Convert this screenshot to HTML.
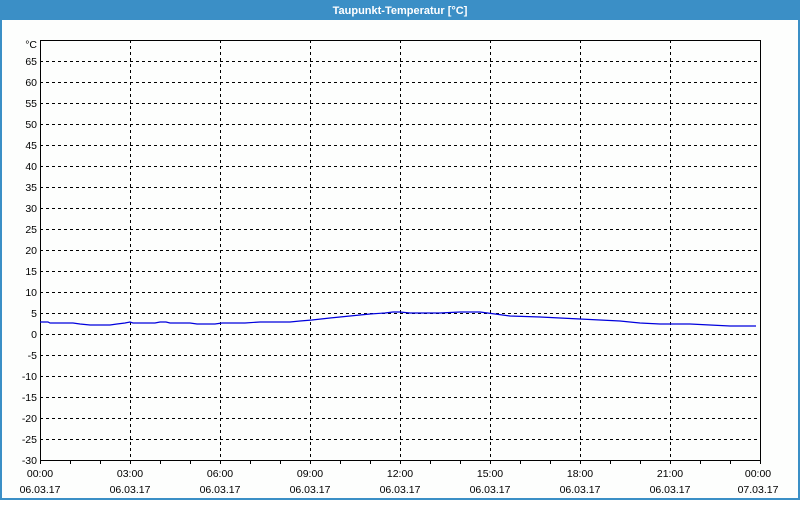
<!DOCTYPE html>
<html><head><meta charset="utf-8"><style>
body{margin:0;width:800px;height:500px;overflow:hidden;background:#fff;font-family:"Liberation Sans",sans-serif}
</style></head><body>
<svg width="800" height="500" xmlns="http://www.w3.org/2000/svg" font-family="Liberation Sans, sans-serif" font-size="10.5">
<rect x="0" y="0" width="800" height="500" fill="#3b8fc6"/>
<rect x="2" y="20" width="796" height="478" fill="#fdfefd"/>
<text x="400" y="14" fill="#fff" font-weight="bold" font-size="11" text-anchor="middle">Taupunkt-Temperatur [°C]</text>
<g stroke="#000" stroke-dasharray="3,3" stroke-width="1">
<line x1="40" x2="760" y1="61.5" y2="61.5"/><line x1="40" x2="760" y1="82.5" y2="82.5"/><line x1="40" x2="760" y1="103.5" y2="103.5"/><line x1="40" x2="760" y1="124.5" y2="124.5"/><line x1="40" x2="760" y1="145.5" y2="145.5"/><line x1="40" x2="760" y1="166.5" y2="166.5"/><line x1="40" x2="760" y1="187.5" y2="187.5"/><line x1="40" x2="760" y1="208.5" y2="208.5"/><line x1="40" x2="760" y1="229.5" y2="229.5"/><line x1="40" x2="760" y1="250.5" y2="250.5"/><line x1="40" x2="760" y1="271.5" y2="271.5"/><line x1="40" x2="760" y1="292.5" y2="292.5"/><line x1="40" x2="760" y1="313.5" y2="313.5"/><line x1="40" x2="760" y1="334.5" y2="334.5"/><line x1="40" x2="760" y1="355.5" y2="355.5"/><line x1="40" x2="760" y1="376.5" y2="376.5"/><line x1="40" x2="760" y1="397.5" y2="397.5"/><line x1="40" x2="760" y1="418.5" y2="418.5"/><line x1="40" x2="760" y1="439.5" y2="439.5"/>
<line y1="40" y2="460" x1="130.5" x2="130.5"/><line y1="40" y2="460" x1="220.5" x2="220.5"/><line y1="40" y2="460" x1="310.5" x2="310.5"/><line y1="40" y2="460" x1="400.5" x2="400.5"/><line y1="40" y2="460" x1="490.5" x2="490.5"/><line y1="40" y2="460" x1="580.5" x2="580.5"/><line y1="40" y2="460" x1="670.5" x2="670.5"/>
</g>
<rect x="40.5" y="40.5" width="720" height="420" fill="none" stroke="#000"/>
<g stroke="#000">
<path d="M40.5 460v4M70.5 460v4M100.5 460v4M130.5 460v4M160.5 460v4M190.5 460v4M220.5 460v4M250.5 460v4M280.5 460v4M310.5 460v4M340.5 460v4M370.5 460v4M400.5 460v4M430.5 460v4M460.5 460v4M490.5 460v4M520.5 460v4M550.5 460v4M580.5 460v4M610.5 460v4M640.5 460v4M670.5 460v4M700.5 460v4M730.5 460v4M760.5 460v4"/>
</g>
<polyline fill="none" stroke="#0000dd" stroke-width="1.2" points="40,322 48,322 50,323 73,323 80,324 90,325 110,325 117,324 125,323 130,322 133,323 155,323 160,322 166,322 170,323 190,323 197,324 215,324 222,323 245,323 260,322 290,322 300,321 312,320 330,318 350,316 370,314 385,313 393,312 400,312 410,313 440,313 460,312 480,312 495,314 510,316 540,317 560,318 580,319 600,320 620,321 640,323 660,324 690,324 710,325 730,326 756,326"/>
<g fill="#000" text-anchor="end">
<text x="37" y="48">°C</text>
<text x="37" y="65">65</text><text x="37" y="86">60</text><text x="37" y="107">55</text><text x="37" y="128">50</text><text x="37" y="149">45</text><text x="37" y="170">40</text><text x="37" y="191">35</text><text x="37" y="212">30</text><text x="37" y="233">25</text><text x="37" y="254">20</text><text x="37" y="275">15</text><text x="37" y="296">10</text><text x="37" y="317">5</text><text x="37" y="338">0</text><text x="37" y="359">-5</text><text x="37" y="380">-10</text><text x="37" y="401">-15</text><text x="37" y="422">-20</text><text x="37" y="443">-25</text><text x="37" y="464">-30</text>
</g>
<g fill="#000" text-anchor="middle">
<text x="40" y="477">00:00</text><text x="130" y="477">03:00</text><text x="220" y="477">06:00</text><text x="310" y="477">09:00</text><text x="400" y="477">12:00</text><text x="490" y="477">15:00</text><text x="580" y="477">18:00</text><text x="670" y="477">21:00</text><text x="758" y="477">00:00</text>
<text x="40" y="493">06.03.17</text><text x="130" y="493">06.03.17</text><text x="220" y="493">06.03.17</text><text x="310" y="493">06.03.17</text><text x="400" y="493">06.03.17</text><text x="490" y="493">06.03.17</text><text x="580" y="493">06.03.17</text><text x="670" y="493">06.03.17</text><text x="758" y="493">07.03.17</text>
</g>
</svg>
</body></html>
